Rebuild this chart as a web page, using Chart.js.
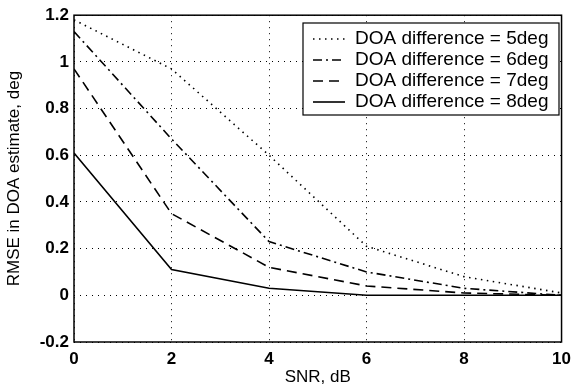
<!DOCTYPE html>
<html>
<head>
<meta charset="utf-8">
<script src="https://cdn.jsdelivr.net/npm/chart.js@4"></script>
<style>
  html, body { margin: 0; padding: 0; background: #fff; }
  #wrap { width: 578px; height: 392px; }
</style>
</head>
<body>
<div id="wrap"><canvas id="chart" width="578" height="392"></canvas></div>
<script>
// SNR values (dB)
const snr = [0, 2, 4, 6, 8, 10];

// RMSE per DOA difference
const rmse5 = [1.18, 0.97, 0.60, 0.21, 0.08, 0.01];
const rmse6 = [1.13, 0.67, 0.23, 0.10, 0.03, 0.00];
const rmse7 = [0.97, 0.35, 0.12, 0.04, 0.01, 0.00];
const rmse8 = [0.61, 0.11, 0.03, 0.00, 0.00, 0.00];

const seriesLabels = [
    'DOA difference = 5deg',
    'DOA difference = 6deg',
    'DOA difference = 7deg',
    'DOA difference = 8deg'
];

const xTicks = [0, 2, 4, 6, 8, 10];
const yTicks = [-0.2, 0, 0.2, 0.4, 0.6, 0.8, 1, 1.2];

const dashes = [[1.5, 4.5], [9, 4, 2, 4], [10, 6], []];

function toPoints(ys) {
    return snr.map((x, i) => ({ x: x, y: ys[i] }));
}

const datasets = [rmse5, rmse6, rmse7, rmse8].map((ys, i) => ({
    label: seriesLabels[i],
    data: toPoints(ys),
    borderColor: '#000',
    borderWidth: 1.6,
    borderDash: dashes[i],
    pointRadius: 0,
    tension: 0,
    fill: false
}));

// frame around the plot + legend drawn inside the top right corner
const boxPlugin = {
    id: 'boxPlugin',
    afterDraw(chart) {
        const { ctx, chartArea: a } = chart;
        ctx.save();
        ctx.strokeStyle = '#000';
        ctx.lineWidth = 1.5;
        ctx.setLineDash([]);
        ctx.strokeRect(a.left, a.top, a.right - a.left, a.bottom - a.top);

        // legend
        const bx = 303, by = 23, bw = 256, bh = 92;
        ctx.fillStyle = '#fff';
        ctx.fillRect(bx, by, bw, bh);
        ctx.lineWidth = 1.2;
        ctx.strokeRect(bx, by, bw, bh);
        ctx.font = '19px "Liberation Sans", Arial, sans-serif';
        ctx.textBaseline = 'middle';
        ctx.fillStyle = '#000';
        chart.data.datasets.forEach((ds, i) => {
            const y = by + 16 + i * 21;
            ctx.beginPath();
            ctx.setLineDash(ds.borderDash);
            ctx.lineWidth = 1.6;
            ctx.moveTo(bx + 10, y);
            ctx.lineTo(bx + 42, y);
            ctx.stroke();
            ctx.setLineDash([]);
            ctx.fillText(ds.label, bx + 52, y);
        });
        ctx.restore();
    }
};

const tickFont = { family: '"Liberation Sans", Arial, sans-serif', size: 17, weight: 'bold' };
const titleFont = { family: '"Liberation Sans", Arial, sans-serif', size: 17 };

new Chart(document.getElementById('chart').getContext('2d'), {
    type: 'line',
    data: { datasets: datasets },
    options: {
        responsive: false,
        animation: false,
        layout: { padding: { left: 0, right: 10, top: 15, bottom: 0 } },
        plugins: {
            legend: { display: false },
            tooltip: { enabled: false }
        },
        scales: {
            x: {
                type: 'linear',
                min: 0,
                max: 10,
                afterBuildTicks: scale => { scale.ticks = xTicks.map(v => ({ value: v })); },
                afterFit: scale => { scale.height = 50; },
                grid: { color: '#000', lineWidth: 1, drawTicks: false },
                border: { display: false, dash: [1, 5] },
                ticks: { color: '#000', font: tickFont, padding: 7 },
                title: { display: true, text: 'SNR, dB', color: '#000', font: titleFont, padding: { top: 3 } }
            },
            y: {
                min: -0.2,
                max: 1.2,
                afterBuildTicks: scale => { scale.ticks = yTicks.map(v => ({ value: v })); },
                afterFit: scale => { scale.width = 74; },
                grid: { color: '#000', lineWidth: 1, drawTicks: false },
                border: { display: false, dash: [1, 5] },
                ticks: {
                    color: '#000',
                    font: tickFont,
                    padding: 5,
                    callback: v => String(parseFloat(v.toFixed(1)))
                },
                title: { display: true, text: 'RMSE in DOA estimate, deg', color: '#000', font: titleFont, padding: { bottom: 0 } }
            }
        }
    },
    plugins: [boxPlugin]
});
</script>
</body>
</html>
